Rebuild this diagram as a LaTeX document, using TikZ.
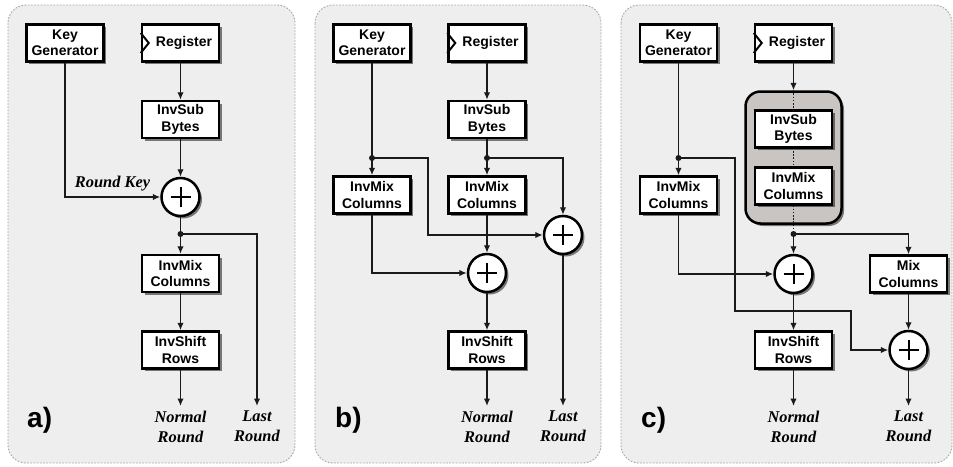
\documentclass[tikz,border=0pt]{standalone}
\usepackage{fontspec}
\setmainfont{Liberation Serif}
\newfontfamily\blocksans{Liberation Sans}
\usetikzlibrary{arrows.meta,shadows}

\definecolor{panelbg}{HTML}{EEEEEE}
\definecolor{panelline}{HTML}{A8A8A8}
\definecolor{groupbg}{HTML}{C9C5C3}
\definecolor{wirecol}{HTML}{1A1A1A}

\tikzset{
  panel/.style={fill=panelbg, draw=panelline, line width=0.9pt,
    dash pattern=on 1.8pt off 1.4pt, rounded corners=18pt},
  boxshadow/.style={drop shadow={shadow xshift=2.5pt, shadow yshift=-2.5pt,
    fill=black, opacity=0.5}},
  blk/.style={draw=black, line width=2.5pt, fill=white, minimum width=77pt,
    minimum height=37pt, inner sep=0pt, align=center,
    font=\blocksans\bfseries\fontsize{14}{16.5}\selectfont, boxshadow},
  grpbox/.style={draw=black, line width=2.5pt, fill=groupbg, minimum width=96pt,
    minimum height=132pt, rounded corners=15pt, inner sep=0pt, boxshadow},
  xor/.style={circle, draw=black, line width=2.5pt, fill=white, minimum size=38pt,
    inner sep=0pt, boxshadow,
    path picture={\draw[black, line width=2pt]
      ([xshift=-10pt]path picture bounding box.center) --
      ([xshift=10pt]path picture bounding box.center)
      ([yshift=-10pt]path picture bounding box.center) --
      ([yshift=10pt]path picture bounding box.center);}},
  wire/.style={draw=wirecol, line width=1.4pt},
  arr/.style={wire, -{Latex[length=7.5pt,width=6.5pt]}},
  dotwire/.style={wire, dash pattern=on 1.6pt off 1.6pt},
  outlbl/.style={font=\bfseries\itshape\fontsize{16.4}{20}\selectfont,
    align=center, inner sep=0pt},
  tag/.style={font=\blocksans\bfseries\fontsize{28}{30}\selectfont,
    anchor=base west, inner sep=0pt},
}

\newcommand{\clockmark}[1]{%
  \draw[black, line width=2pt] ([yshift=10pt]#1.west) -- ([xshift=8pt]#1.west)
    -- ([yshift=-10pt]#1.west);}
\newcommand{\junction}[1]{\fill[wirecol] (#1) circle (3pt);}

\begin{document}
\begin{tikzpicture}[x=1pt, y=-1pt]
\useasboundingbox (0,0) rectangle (953,466);

% panel frames
\path[panel] (8,5) rectangle (295,463);
\path[panel] (315,5) rectangle (601,463);
\path[panel] (621,5) rectangle (952,463);

% ---------------- a) ----------------
\node[blk] (kga) at (65,43) {Key\\Generator};
\node[blk] (rega) at (180.5,43) {\kern7pt Register};
\clockmark{rega}
\node[blk] (isba) at (180.5,119.5) {InvSub\\Bytes};
\node[xor] (xa) at (180.5,197) {};
\node[blk] (imca) at (180.5,273.5) {InvMix\\Columns};
\node[blk] (isra) at (180.5,350) {InvShift\\Rows};
\coordinate (ja) at (180.5,234);
\coordinate (outNa) at (180.5,406);
\coordinate (outLa) at (257,406);

\draw[arr] (rega) -- (isba);
\draw[arr] (isba) -- (xa);
\draw[arr] (kga.south) |- (xa.west);
\draw[arr] (xa) -- (imca);
\draw[arr] (ja) -| (outLa);
\draw[arr] (imca) -- (isra);
\draw[arr] (isra) -- (outNa);
\junction{ja}

\node[font=\bfseries\itshape\fontsize{16.4}{20}\selectfont, anchor=base, inner sep=0pt]
  (rk) at (112.5,187) {Round Key};
\node[outlbl] (nra) at (180.5,426.4) {Normal\\Round};
\node[outlbl] (lra) at (257,426.4) {Last\\Round};
\node[tag] (taga) at (27,427) {a)};

% ---------------- b) ----------------
\node[blk] (kgb) at (372,43) {Key\\Generator};
\node[blk] (regb) at (487,43) {\kern7pt Register};
\clockmark{regb}
\node[blk] (isbb) at (487,119.5) {InvSub\\Bytes};
\node[blk] (imcLb) at (372,195) {InvMix\\Columns};
\node[blk] (imcRb) at (487,195) {InvMix\\Columns};
\node[xor] (xRb) at (563,235) {};
\node[xor] (xb) at (487,273) {};
\node[blk] (isrb) at (487,350) {InvShift\\Rows};
\coordinate (jkb) at (372,158);
\coordinate (jsb) at (487,158);
\coordinate (bendb) at (428,158);
\coordinate (outNb) at (487,406);
\coordinate (outLb) at (563,406);

\draw[arr] (regb) -- (isbb);
\draw[arr] (isbb) -- (imcRb);
\draw[arr] (jsb) -| (xRb.north);
\draw[arr] (kgb) -- (imcLb);
\draw[arr] (jkb) -- (bendb) |- (xRb.west);
\draw[arr] (imcLb.south) |- (xb.west);
\draw[arr] (imcRb) -- (xb);
\draw[arr] (xb) -- (isrb);
\draw[arr] (isrb) -- (outNb);
\draw[arr] (xRb) -- (outLb);
\junction{jkb}
\junction{jsb}

\node[outlbl] (nrb) at (487,426.4) {Normal\\Round};
\node[outlbl] (lrb) at (563,426.4) {Last\\Round};
\node[tag] (tagb) at (335,427) {b)};

% ---------------- c) ----------------
\node[blk] (kgc) at (678.5,43) {Key\\Generator};
\node[blk] (regc) at (793.5,43) {\kern7pt Register};
\clockmark{regc}
\node[grpbox] (grp) at (793.5,157.5) {};
\coordinate (jc) at (793.5,234);
\draw[dotwire] (grp.north) -- (jc);
\node[blk] (isbc) at (793.5,129) {InvSub\\Bytes};
\node[blk] (imcc) at (793.5,186) {InvMix\\Columns};
\node[blk] (imcLc) at (678.5,195) {InvMix\\Columns};
\node[xor] (xc) at (793.5,274) {};
\node[blk] (mcc) at (908.5,274) {Mix\\Columns};
\node[xor] (x3c) at (908.5,350) {};
\node[blk] (isrc) at (793.5,350) {InvShift\\Rows};
\coordinate (jkc) at (678.5,158);
\coordinate (bc1) at (735,158);
\coordinate (bc2) at (735,311);
\coordinate (bc3) at (851,311);
\coordinate (outNc) at (793.5,406);
\coordinate (outLc) at (908.5,406);

\draw[arr] (regc) -- (grp);
\draw[arr] (jc) -- (xc);
\draw[arr] (jc) -| (mcc.north);
\draw[arr] (kgc) -- (imcLc);
\draw[arr] (jkc) -- (bc1) -- (bc2) -- (bc3) |- (x3c.west);
\draw[arr] (imcLc.south) |- (xc.west);
\draw[arr] (xc) -- (isrc);
\draw[arr] (isrc) -- (outNc);
\draw[arr] (mcc) -- (x3c);
\draw[arr] (x3c) -- (outLc);
\junction{jc}
\junction{jkc}

\node[outlbl] (nrc) at (793.5,426.4) {Normal\\Round};
\node[outlbl] (lrc) at (908.5,426.4) {Last\\Round};
\node[tag] (tagc) at (641,427) {c)};
\end{tikzpicture}
\end{document}
